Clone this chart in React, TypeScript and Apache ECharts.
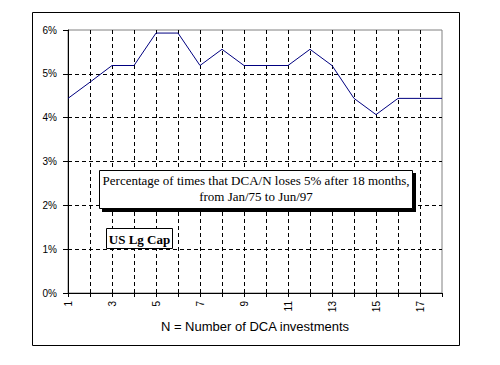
import React, { useEffect, useRef } from "react";
import * as echarts from "echarts";

const categories = ["1","2","3","4","5","6","7","8","9","10","11","12","13","14","15","16","17","18"];
const lossPct = [4.44, 4.81, 5.19, 5.19, 5.93, 5.93, 5.19, 5.56, 5.19, 5.19, 5.19, 5.56, 5.19, 4.44, 4.07, 4.44, 4.44, 4.44];
const titleLines = ["Percentage of times that DCA/N loses 5% after 18 months,", "from Jan/75 to Jun/97"];
const tagText = "US Lg Cap";
const xName = "N = Number of DCA investments";

const serif = "'Times New Roman', 'Liberation Serif', serif";
const sans = "Arial, 'Liberation Sans', sans-serif";

export default function App() {
  const ref = useRef<HTMLDivElement>(null);
  useEffect(() => {
    if (!ref.current) return;
    const chart = echarts.init(ref.current, null, { renderer: "svg" });
    chart.setOption({
      animation: false,
      backgroundColor: "#fff",
      grid: {
        left: 68, top: 30, right: 58, bottom: 72,
        show: true, borderColor: "#808080", borderWidth: 1, backgroundColor: "transparent",
      },
      xAxis: {
        type: "category",
        data: categories,
        boundaryGap: false,
        axisLine: { lineStyle: { color: "#000", width: 1 } },
        axisTick: { show: true, interval: 0, length: 4, lineStyle: { color: "#000" } },
        axisLabel: { interval: 1, rotate: 90, margin: 8, color: "#000", fontSize: 10, fontFamily: sans },
        splitLine: { show: true, interval: 0, showMinLine: false, showMaxLine: false, lineStyle: { color: "#000", type: [4, 3], width: 1 } },
        name: xName,
        nameLocation: "middle",
        nameGap: 24,
        nameTextStyle: { color: "#000", fontSize: 13, fontFamily: sans },
      },
      yAxis: {
        type: "value",
        min: 0, max: 6, interval: 1,
        axisLine: { show: true, lineStyle: { color: "#000", width: 1 } },
        axisTick: { show: true, length: 5, lineStyle: { color: "#000" } },
        axisLabel: { formatter: "{value}%", margin: 11, color: "#000", fontSize: 10, fontFamily: sans },
        splitLine: { show: true, showMinLine: false, showMaxLine: false, lineStyle: { color: "#000", type: [4, 3], width: 1 } },
      },
      series: [
        {
          type: "line",
          data: lossPct,
          symbol: "none",
          lineStyle: { color: "#000080", width: 1 },
          z: 5,
        },
      ],
      graphic: [
        { type: "rect", shape: { x: 32.5, y: 12.5, width: 427, height: 333 }, style: { fill: "none", stroke: "#000", lineWidth: 1 }, z: 10 },
        { type: "rect", shape: { x: 102, y: 173, width: 314, height: 39 }, style: { fill: "#000" }, z: 20 },
        { type: "rect", shape: { x: 99.5, y: 170.5, width: 313, height: 38 }, style: { fill: "#fff", stroke: "#000", lineWidth: 1 }, z: 21 },
        { type: "text", x: 256, y: 180.5, style: { text: titleLines[0], fill: "#000", font: `13px ${serif}`, textAlign: "center", textVerticalAlign: "middle" }, z: 22 },
        { type: "text", x: 256, y: 196.5, style: { text: titleLines[1], fill: "#000", font: `13px ${serif}`, textAlign: "center", textVerticalAlign: "middle" }, z: 22 },
        { type: "rect", shape: { x: 106.5, y: 228.5, width: 66, height: 20 }, style: { fill: "#fff", stroke: "#000", lineWidth: 1 }, z: 21 },
        { type: "text", x: 139.5, y: 239, style: { text: tagText, fill: "#000", font: `bold 13px ${serif}`, textAlign: "center", textVerticalAlign: "middle" }, z: 22 },
      ],
    });
    return () => chart.dispose();
  }, []);
  return <div ref={ref} style={{ width: 500, height: 365, position: "absolute", left: 0, top: 0 }} />;
}
